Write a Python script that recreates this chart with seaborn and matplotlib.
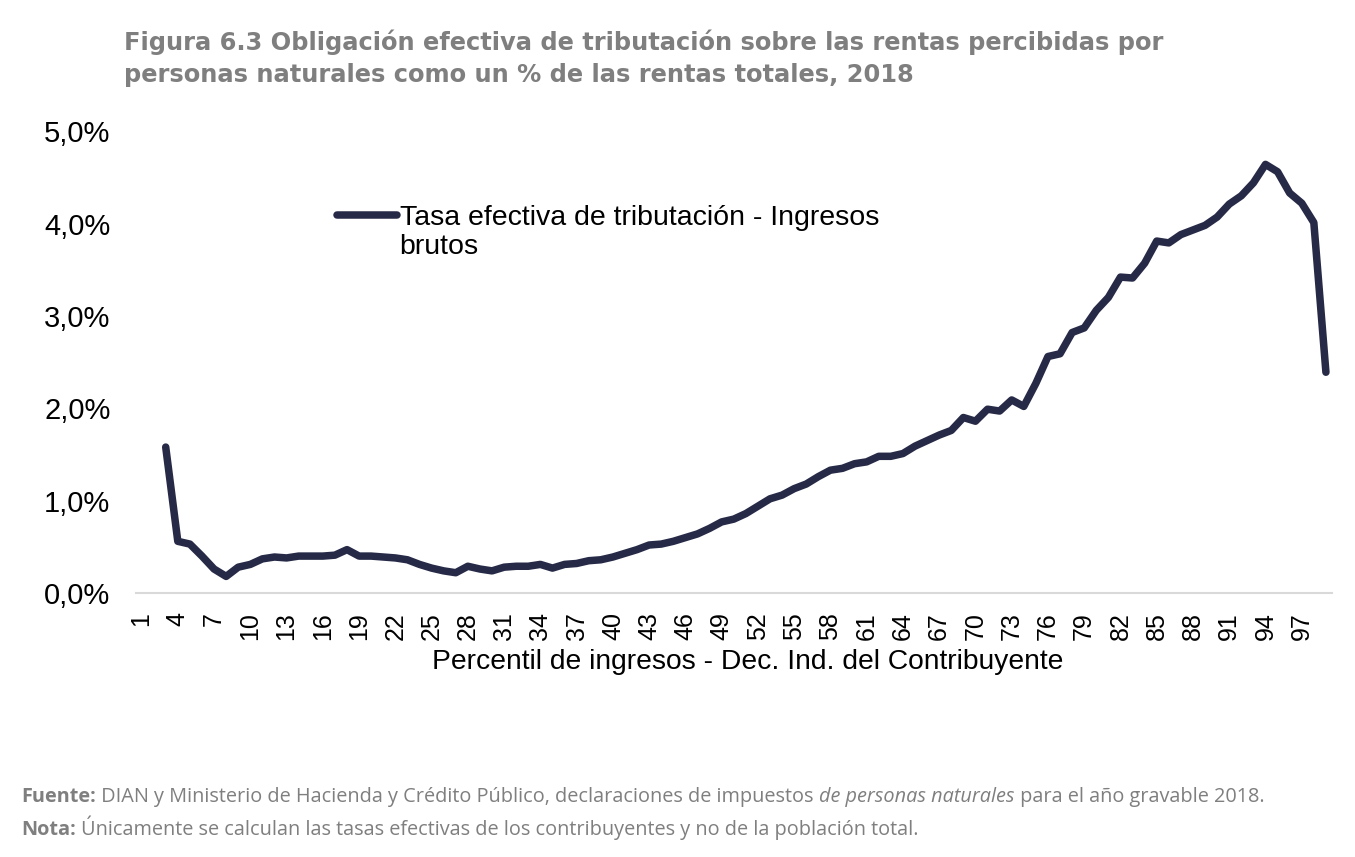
import numpy as np
import pandas as pd
import matplotlib.pyplot as plt
import matplotlib.ticker as mticker
import seaborn as sns

# Percentiles 1..99 (los percentiles 1 y 2 no tienen dato)
percentiles = list(range(1, 100))
tasa = [np.nan, np.nan,
        1.58, 0.56, 0.53, 0.40, 0.26, 0.18, 0.28, 0.31, 0.37, 0.39,
        0.38, 0.40, 0.40, 0.40, 0.41, 0.47, 0.40, 0.40, 0.39, 0.38,
        0.36, 0.31, 0.27, 0.24, 0.22, 0.29, 0.26, 0.24, 0.28, 0.29,
        0.29, 0.31, 0.27, 0.31, 0.32, 0.35, 0.36, 0.39, 0.43, 0.47,
        0.52, 0.53, 0.56, 0.60, 0.64, 0.70, 0.77, 0.80, 0.86, 0.94,
        1.02, 1.06, 1.13, 1.18, 1.26, 1.33, 1.35, 1.40, 1.42, 1.48,
        1.48, 1.51, 1.59, 1.65, 1.71, 1.76, 1.90, 1.86, 1.99, 1.97,
        2.09, 2.02, 2.27, 2.56, 2.59, 2.82, 2.87, 3.06, 3.20, 3.42,
        3.41, 3.57, 3.81, 3.79, 3.88, 3.93, 3.98, 4.07, 4.21, 4.30,
        4.44, 4.64, 4.56, 4.33, 4.22, 4.01, 2.39]
tick_labels = [str(p) for p in range(1, 100, 3)]

df = pd.DataFrame({"percentil": percentiles, "tasa": np.array(tasa) / 100})

sns.set_style("white")
plt.rcParams["font.family"] = ["Liberation Sans", "DejaVu Sans"]
plt.rcParams["text.color"] = "black"
plt.rcParams["xtick.color"] = "black"
plt.rcParams["ytick.color"] = "black"
plt.rcParams["axes.labelcolor"] = "black"

fig = plt.figure(figsize=(13.55, 8.57), dpi=100)
ax = fig.add_axes([0.100, 0.308, 0.883, 0.539])

sns.lineplot(data=df, x="percentil", y="tasa", ax=ax, color="#262a46",
             linewidth=5.4, solid_capstyle="round", solid_joinstyle="round",
             label="Tasa efectiva de tributación - Ingresos")

ax.set_xlim(0.5, 99.5)
ax.set_ylim(0, 0.05)
ax.set_xticks([int(t) for t in tick_labels])
ax.set_xticklabels(tick_labels, rotation=90, fontsize=18)
ax.yaxis.set_major_locator(mticker.MultipleLocator(0.01))
ax.yaxis.set_major_formatter(
    mticker.FuncFormatter(lambda v, p: f"{v * 100:.1f}%".replace(".", ",")))
ax.tick_params(axis="y", labelsize=21, length=0, pad=18)
ax.tick_params(axis="x", length=0, pad=14)
ax.set_ylabel("")
ax.set_xlabel("Percentil de ingresos - Dec. Ind. del Contribuyente",
              fontsize=20.3, labelpad=6)
ax.xaxis.label.set_x(0.512)

for s in ["top", "right", "left"]:
    ax.spines[s].set_visible(False)
ax.spines["bottom"].set_color("#d9d9d9")
ax.spines["bottom"].set_linewidth(1.5)

leg = ax.legend(loc="upper left", bbox_to_anchor=(0.147, 0.895), frameon=False,
                fontsize=20.5, handlelength=2.1, handletextpad=0.1)
ax.annotate("brutos", xy=(0, 0), xycoords=leg.get_texts()[0],
            xytext=(0, -2), textcoords="offset points",
            ha="left", va="top", fontsize=20.5, zorder=10)

# Título
fig.text(0.0915, 0.9655,
         "Figura 6.3 Obligación efectiva de tributación sobre las rentas percibidas por\n"
         "personas naturales como un % de las rentas totales, 2018",
         ha="left", va="top", fontsize=17.4, fontweight="bold", color="#7f7f7f",
         family=["DejaVu Sans"], linespacing=1.4)

# Notas al pie
gris = "#7f7f7f"
pie = dict(fontsize=14.3, color=gris, family=["Open Sans", "DejaVu Sans"])
t1 = fig.text(0.016, 0.064, "Fuente:", ha="left", va="baseline",
              fontweight="bold", **pie)
t2 = ax.annotate(" DIAN y Ministerio de Hacienda y Crédito Público, declaraciones de impuestos ",
                 xy=(1, 0), xycoords=t1, va="bottom", **pie)
t3 = ax.annotate("de personas naturales", xy=(1, 0), xycoords=t2, va="bottom",
                 style="italic", **pie)
ax.annotate(" para el año gravable 2018.", xy=(1, 0), xycoords=t3, va="bottom", **pie)
n1 = fig.text(0.016, 0.026, "Nota:", ha="left", va="baseline",
              fontweight="bold", **pie)
ax.annotate(" Únicamente se calculan las tasas efectivas de los contribuyentes y no de la población total.",
            xy=(1, 0), xycoords=n1, va="bottom", **pie)

fig.savefig("out.png", dpi=100)
